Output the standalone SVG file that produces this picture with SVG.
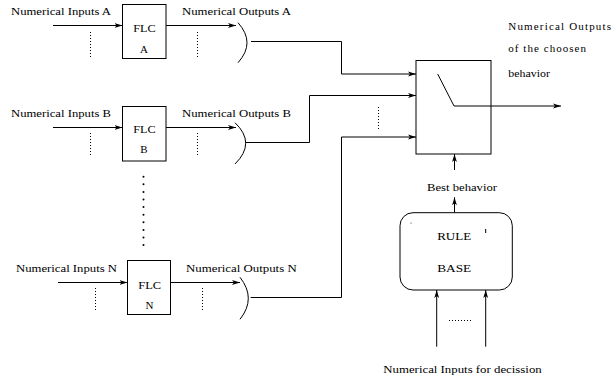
<svg xmlns="http://www.w3.org/2000/svg" width="613" height="381" viewBox="0 0 613 381">
<style>
text{font-family:"Liberation Serif","Times New Roman",serif;font-size:11px;fill:#000}
.box{fill:#fff;stroke:#000;stroke-width:1}
.ln{fill:none;stroke:#000;stroke-width:1}
.arr{fill:none;stroke:#000;stroke-width:1;marker-end:url(#ah)}
.dot{fill:none;stroke:#000;stroke-width:1;stroke-dasharray:1 2}
.mid{text-anchor:middle}
</style>
<defs>
<marker id="ah" markerUnits="userSpaceOnUse" markerWidth="9" markerHeight="6" refX="8" refY="3" orient="auto">
<path d="M0,0.6 L8,3 L0,5.4 L2,3 z" fill="#000"/>
</marker>
</defs>
<rect width="613" height="381" fill="#fff"/>

<g id="flcA">
<rect class="box" x="122.5" y="4.5" width="43.5" height="54"/>
<text x="133.3" y="32" textLength="22.3" lengthAdjust="spacingAndGlyphs">FLC</text>
<text x="144" y="53" class="mid">A</text>
</g>
<g id="flcB">
<rect class="box" x="122.5" y="106.5" width="43.5" height="54.5"/>
<text x="133.3" y="133" textLength="22.3" lengthAdjust="spacingAndGlyphs">FLC</text>
<text x="144" y="153" class="mid">B</text>
</g>
<g id="flcN">
<rect class="box" x="127.5" y="260.5" width="43" height="54"/>
<text x="138.3" y="288.5" textLength="22.8" lengthAdjust="spacingAndGlyphs">FLC</text>
<text x="149.5" y="309" class="mid">N</text>
</g>

<g id="switch">
<rect class="box" x="416" y="60.5" width="75" height="93.5"/>
<polyline class="arr" points="437.7,74 454,106 561,106"/>
</g>

<g id="rulebase">
<rect class="box" x="400" y="212.7" width="112.3" height="77.3" rx="13" ry="13"/>
<text x="437.2" y="240" textLength="34" lengthAdjust="spacingAndGlyphs">RULE</text>
<text x="437.2" y="272" textLength="34" lengthAdjust="spacingAndGlyphs">BASE</text>
<line class="ln" x1="485.7" y1="229" x2="485.7" y2="233"/>
<circle cx="411" cy="223" r="0.5" fill="#000"/>
</g>

<g id="labels">
<text x="11" y="14.5" textLength="100" lengthAdjust="spacingAndGlyphs">Numerical Inputs A</text>
<text x="182" y="14.5" textLength="109" lengthAdjust="spacingAndGlyphs">Numerical Outputs A</text>
<text x="11" y="117" textLength="100" lengthAdjust="spacingAndGlyphs">Numerical Inputs B</text>
<text x="182" y="117" textLength="109" lengthAdjust="spacingAndGlyphs">Numerical Outputs B</text>
<text x="16" y="271.7" textLength="101" lengthAdjust="spacingAndGlyphs">Numerical Inputs N</text>
<text x="186" y="271.7" textLength="110.7" lengthAdjust="spacingAndGlyphs">Numerical Outputs N</text>
<text x="508.3" y="30" textLength="102.7" lengthAdjust="spacing">Numerical Outputs</text>
<text x="508.3" y="52.3" textLength="77.7" lengthAdjust="spacing">of the choosen</text>
<text x="508.3" y="76.7" textLength="41.7" lengthAdjust="spacingAndGlyphs">behavior</text>
<text x="427" y="191" textLength="70" lengthAdjust="spacingAndGlyphs">Best behavior</text>
<text x="383.3" y="372.5" textLength="158.4" lengthAdjust="spacingAndGlyphs">Numerical Inputs for decission</text>
</g>

<g id="connectors">
<line class="arr" x1="53" y1="25.5" x2="122.5" y2="25.5"/>
<line class="arr" x1="166" y1="25.5" x2="236" y2="25.5"/>
<line class="arr" x1="53" y1="127.5" x2="122.5" y2="127.5"/>
<line class="arr" x1="166" y1="127.5" x2="236" y2="127.5"/>
<line class="arr" x1="58" y1="282.5" x2="127.5" y2="282.5"/>
<line class="arr" x1="170.5" y1="282.5" x2="240" y2="282.5"/>

<line class="dot" x1="90.5" y1="32" x2="90.5" y2="59"/>
<line class="dot" x1="197.5" y1="32" x2="197.5" y2="59"/>
<line class="dot" x1="90.5" y1="133" x2="90.5" y2="156"/>
<line class="dot" x1="197.5" y1="133" x2="197.5" y2="156"/>
<line class="dot" x1="95.5" y1="288" x2="95.5" y2="312"/>
<line class="dot" x1="202.5" y1="288" x2="202.5" y2="312"/>
<line class="dot" x1="378.5" y1="107" x2="378.5" y2="130"/>
<line class="dot" x1="449" y1="320.5" x2="472" y2="320.5"/>
<line x1="143.5" y1="176.7" x2="143.5" y2="245.5" stroke="#000" stroke-width="2" stroke-linecap="round" stroke-dasharray="0 7.6"/>

<path class="ln" d="M238,22.7 Q256,42.7 238,62.7"/>
<path class="ln" d="M235,122.7 Q256.4,143 235,164"/>
<path class="ln" d="M240,277.3 Q256.6,298.3 240,319.3"/>

<polyline class="arr" points="251,41.5 341.5,41.5 341.5,74 416,74"/>
<polyline class="arr" points="245.7,142.5 309.5,142.5 309.5,95.5 416,95.5"/>
<polyline class="arr" points="250.7,297.5 341.5,297.5 341.5,137 416,137"/>

<line class="arr" x1="454.5" y1="170" x2="454.5" y2="154"/>
<line class="arr" x1="454.5" y1="212.7" x2="454.5" y2="197.3"/>
<line class="arr" x1="436.7" y1="346.7" x2="436.7" y2="290"/>
<line class="arr" x1="485.7" y1="346.7" x2="485.7" y2="290"/>
</g>
</svg>
